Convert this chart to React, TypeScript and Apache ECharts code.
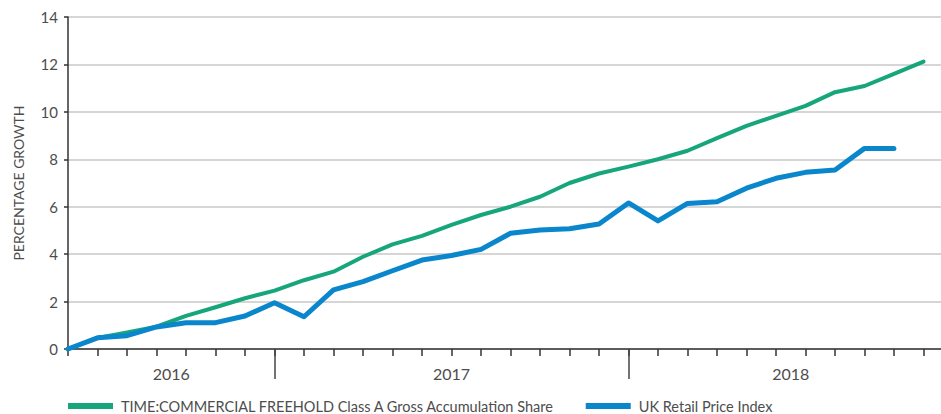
import React, { useEffect, useRef } from "react";
import * as echarts from "echarts";

const months: string[] = [
  "Jun 2016", "Jul 2016", "Aug 2016", "Sep 2016", "Oct 2016", "Nov 2016", "Dec 2016",
  "Jan 2017", "Feb 2017", "Mar 2017", "Apr 2017", "May 2017", "Jun 2017", "Jul 2017",
  "Aug 2017", "Sep 2017", "Oct 2017", "Nov 2017", "Dec 2017",
  "Jan 2018", "Feb 2018", "Mar 2018", "Apr 2018", "May 2018", "Jun 2018", "Jul 2018",
  "Aug 2018", "Sep 2018", "Oct 2018", "Nov 2018", "Dec 2018",
];

const years: string[] = ["2016", "2017", "2018"];

const fundName = "TIME:COMMERCIAL FREEHOLD Class A Gross Accumulation Share";
const rpiName = "UK Retail Price Index";

const fundValues: number[] = [
  0, 0.47, 0.7, 0.94, 1.4, 1.76, 2.14, 2.46, 2.9, 3.26, 3.89, 4.41, 4.77, 5.23,
  5.65, 6.0, 6.42, 7.0, 7.4, 7.69, 8.0, 8.36, 8.89, 9.41, 9.83, 10.25, 10.83,
  11.09, 11.6, 12.12,
];

const rpiValues: number[] = [
  0, 0.47, 0.56, 0.93, 1.11, 1.11, 1.39, 1.95, 1.36, 2.49, 2.84, 3.3, 3.75, 3.94,
  4.2, 4.88, 5.02, 5.07, 5.27, 6.16, 5.4, 6.14, 6.21, 6.78, 7.2, 7.45, 7.55,
  8.46, 8.45,
];

const yTicks = { min: 0, max: 14, interval: 2 };

const GREEN = "#17a67b";
const BLUE = "#0a86cc";
const TEXT = "#4d4d4d";
const FONT = "Lato, 'Open Sans', sans-serif";

export default function App() {
  const ref = useRef<HTMLDivElement>(null);

  useEffect(() => {
    if (!ref.current) return;
    const chart = echarts.init(ref.current, undefined, { renderer: "svg" });

    const yearStartIdx: number[] = years.map((y) => months.findIndex((m) => m.endsWith(y)));
    const lastIdx = months.length - 1;
    const halfCats: string[] = [];
    for (let i = 0; i <= lastIdx * 2; i++) halfCats.push("");
    years.forEach((y, k) => {
      const s = yearStartIdx[k];
      const e = k + 1 < years.length ? yearStartIdx[k + 1] : lastIdx;
      halfCats[s + e] = y;
    });
    const boundaryHalf = yearStartIdx.slice(1).map((i) => i * 2);

    chart.setOption({
      animation: false,
      textStyle: { fontFamily: FONT },
      grid: {
        left: 68,
        width: 885,
        top: 17,
        bottom: 65,
        containLabel: false,
        outerBoundsMode: "none",
      },
      legend: {
        left: 68,
        top: 398,
        padding: 0,
        itemWidth: 45,
        itemHeight: 6,
        itemGap: 31,
        icon: "rect",
        textStyle: {
          color: TEXT,
          fontSize: 14.5,
          lineHeight: 16,
          fontFamily: FONT,
          padding: [0, 0, 0, 3],
        },
        data: [
          { name: fundName, itemStyle: { color: GREEN } },
          { name: rpiName, itemStyle: { color: BLUE } },
        ],
      },
      xAxis: [
        {
          type: "category",
          data: months,
          boundaryGap: false,
          axisLine: { show: true, lineStyle: { color: "#333", width: 1.5 } },
          axisTick: { show: true, interval: 0, length: 7, lineStyle: { color: "#333", width: 1.5 } },
          axisLabel: { show: false },
          splitLine: { show: false },
        },
        {
          type: "category",
          data: halfCats,
          boundaryGap: false,
          position: "bottom",
          axisLine: { show: false },
          axisTick: {
            show: true,
            length: 30,
            interval: (idx: number) => boundaryHalf.indexOf(idx) >= 0,
            lineStyle: { color: "#444", width: 1.5 },
          },
          axisLabel: {
            show: true,
            interval: 0,
            margin: 16,
            color: TEXT,
            fontSize: 16,
            fontFamily: FONT,
          },
          splitLine: { show: false },
        },
      ],
      yAxis: {
        type: "value",
        min: yTicks.min,
        max: yTicks.max,
        interval: yTicks.interval,
        name: "PERCENTAGE GROWTH",
        nameLocation: "middle",
        nameGap: 43,
        nameTextStyle: { color: TEXT, fontSize: 14, fontFamily: FONT },
        axisLine: { show: true, lineStyle: { color: "#333", width: 1.5 } },
        axisTick: { show: true, length: 4, lineStyle: { color: "#333", width: 1.5 } },
        axisLabel: { color: TEXT, fontSize: 15, margin: 10, fontFamily: FONT },
        splitLine: { show: true, lineStyle: { color: "#c8c8c8", width: 1.5 } },
      },
      series: [
        {
          name: fundName,
          type: "line",
          data: fundValues,
          xAxisIndex: 0,
          symbol: "none",
          color: GREEN,
          lineStyle: { color: GREEN, width: 4, cap: "round", join: "round" },
          z: 2,
        },
        {
          name: rpiName,
          type: "line",
          data: rpiValues,
          xAxisIndex: 0,
          symbol: "none",
          color: BLUE,
          lineStyle: { color: BLUE, width: 5, cap: "round", join: "round" },
          z: 3,
        },
      ],
    });

    return () => chart.dispose();
  }, []);

  return (
    <div
      ref={ref}
      style={{ position: "fixed", left: 0, top: 0, width: 941, height: 414, background: "#fff" }}
    />
  );
}
